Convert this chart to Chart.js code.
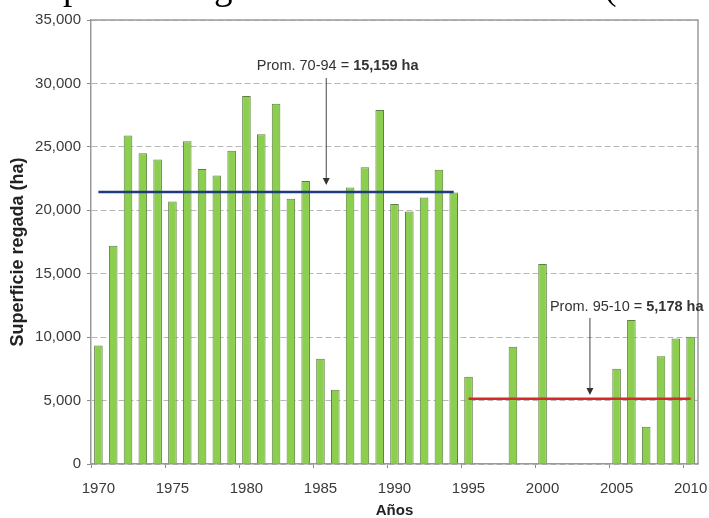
<!DOCTYPE html>
<html>
<head>
<meta charset="utf-8">
<script src="https://cdn.jsdelivr.net/npm/chart.js@4.4.1/dist/chart.umd.min.js"></script>
<style>
  html, body { margin: 0; padding: 0; background: #fff; }
</style>
</head>
<body>
<canvas id="riego" width="709" height="518"></canvas>
<script>
// years on the category axis
const years = ['1970','1971','1972','1973','1974','1975','1976','1977','1978','1979',
               '1980','1981','1982','1983','1984','1985','1986','1987','1988','1989',
               '1990','1991','1992','1993','1994','1995','1996','1997','1998','1999',
               '2000','2001','2002','2003','2004','2005','2006','2007','2008','2009','2010'];

// superficie regada (ha)
const surface = [9350, 17200, 25900, 24500, 24000, 20700, 25450, 23250, 22750, 24700,
                 29000, 26000, 28400, 20900, 22300, 8300, 5850, 21800, 23400, 27900,
                 20500, 19900, 21000, 23200, 21400, 6880, 0, 0, 9250, 0,
                 15770, 0, 0, 0, 80, 7500, 11350, 2940, 8490, 9900, 10030];

// the two average lines (as drawn in the picture)
const avgOldYears = ['1970', '1994'];
const avgOldLevel = [21450, 21450];
const avgNewYears = ['1995', '2010'];
const avgNewLevel = [5150, 5150];

const yTicks = [0, 5000, 10000, 15000, 20000, 25000, 30000, 35000];

const titleText = 'Superficie regada en el área de estudio (1970-2010)';
const yTitle = 'Superficie regada (ha)';
const noteOld = ['Prom. 70-94 = ', '15,159 ha'];
const noteNew = ['Prom. 95-10 = ', '5,178 ha'];

const sans = '"Liberation Sans", Arial, sans-serif';

function drawNote(ctx, parts, px, py, alignLeft) {
    ctx.font = '14.5px ' + sans;
    const w1 = ctx.measureText(parts[0]).width;
    ctx.font = 'bold 14.5px ' + sans;
    const w2 = ctx.measureText(parts[1]).width;
    let start = alignLeft ? px : px - (w1 + w2) / 2;
    ctx.fillStyle = '#333';
    ctx.textBaseline = 'middle';
    ctx.textAlign = 'left';
    ctx.font = '14.5px ' + sans;
    ctx.fillText(parts[0], start, py);
    ctx.font = 'bold 14.5px ' + sans;
    ctx.fillText(parts[1], start + w1, py);
}

function drawArrow(ctx, px, y1, y2) {
    ctx.strokeStyle = '#444';
    ctx.fillStyle = '#333';
    ctx.lineWidth = 1;
    ctx.beginPath();
    ctx.moveTo(px, y1);
    ctx.lineTo(px, y2 - 5);
    ctx.stroke();
    ctx.beginPath();
    ctx.moveTo(px - 3.5, y2 - 7);
    ctx.lineTo(px + 3.5, y2 - 7);
    ctx.lineTo(px, y2);
    ctx.closePath();
    ctx.fill();
}

const overlay = {
    id: 'overlay',
    afterDraw(chart) {
        const { ctx, chartArea: a, scales: { x, y } } = chart;
        ctx.save();

        // plot frame, top and right
        ctx.strokeStyle = '#9c9c9c';
        ctx.lineWidth = 1.5;
        ctx.beginPath();
        ctx.moveTo(a.left, a.top);
        ctx.lineTo(a.right, a.top);
        ctx.lineTo(a.right, a.bottom);
        ctx.stroke();

        // page title, cut off by the top edge
        ctx.font = '37px "Liberation Serif", "Times New Roman", serif';
        ctx.fillStyle = '#000';
        ctx.textBaseline = 'alphabetic';
        ctx.textAlign = 'left';
        const x0 = 63 - ctx.measureText('Su').width;
        ctx.fillText(titleText, x0, -1);

        // y axis title
        ctx.save();
        ctx.translate(18.5, 252);
        ctx.rotate(-Math.PI / 2);
        ctx.font = 'bold 18px ' + sans;
        ctx.fillStyle = '#222';
        ctx.textAlign = 'center';
        ctx.textBaseline = 'middle';
        ctx.fillText(yTitle, 0, 0);
        ctx.restore();

        // notes with arrows
        drawNote(ctx, noteOld, x.getPixelForValue(16.16), y.getPixelForValue(31370), false);
        drawArrow(ctx, x.getPixelForValue(15.39), y.getPixelForValue(30430), y.getPixelForValue(21990));
        drawNote(ctx, noteNew, x.getPixelForValue(30.5), y.getPixelForValue(12400), true);
        drawArrow(ctx, x.getPixelForValue(33.2), y.getPixelForValue(11510), y.getPixelForValue(5440));

        ctx.restore();
    }
};

const ctx = document.getElementById('riego').getContext('2d');
const riegoChart = new Chart(ctx, {
    type: 'bar',
    data: {
        labels: years,
        datasets: [
            {
                type: 'line',
                data: avgOldYears.map((yr, i) => ({ x: yr, y: avgOldLevel[i] })),
                borderColor: '#1f3c7a',
                borderWidth: 2.5,
                pointRadius: 0,
                order: 1
            },
            {
                type: 'line',
                data: avgNewYears.map((yr, i) => ({ x: yr, y: avgNewLevel[i] })),
                borderColor: '#d42a2a',
                borderWidth: 2.5,
                pointRadius: 0,
                order: 1
            },
            {
                label: 'Superficie regada',
                data: surface,
                backgroundColor: '#8ccf4f',
                borderColor: '#5f7f43',
                borderWidth: 1,
                barPercentage: 0.58,
                categoryPercentage: 1.0,
                order: 2
            }
        ]
    },
    options: {
        responsive: false,
        animation: false,
        devicePixelRatio: 1,
        layout: { padding: { left: 0, right: 11, top: 20, bottom: 0 } },
        plugins: {
            legend: { display: false },
            tooltip: { enabled: false }
        },
        scales: {
            x: {
                offset: true,
                afterFit: (scale) => {
                    scale.height = 54;
                    scale.paddingLeft = 0;
                    scale.paddingRight = 0;
                },
                grid: {
                    offset: true,
                    drawOnChartArea: false,
                    tickLength: 4,
                    tickColor: (c) => (c.index % 5 === 0 ? '#8a8a8a' : 'transparent')
                },
                border: { color: '#9a9a9a', width: 1.5 },
                ticks: {
                    autoSkip: false,
                    maxRotation: 0,
                    padding: 12,
                    color: '#3a3a3a',
                    font: { family: sans, size: 15 },
                    callback: function (v, i) {
                        const yr = years[i];
                        return Number(yr) % 5 === 0 ? yr : '';
                    }
                },
                title: {
                    display: true,
                    text: 'Años',
                    color: '#222',
                    font: { family: sans, size: 15, weight: 'bold', lineHeight: 1 },
                    padding: 0
                }
            },
            y: {
                min: 0,
                max: 35000,
                afterFit: (scale) => { scale.width = 91; },
                afterBuildTicks: (scale) => { scale.ticks = yTicks.map(v => ({ value: v })); },
                grid: {
                    color: '#b8b8b8',
                    lineWidth: 1,
                    tickLength: 4,
                    tickColor: '#8a8a8a',
                    tickBorderDash: []
                },
                border: { color: '#9a9a9a', width: 1.5, dash: [6, 3] },
                ticks: {
                    padding: 6,
                    color: '#3a3a3a',
                    font: { family: sans, size: 15 },
                    callback: (v) => v.toLocaleString('en-US')
                }
            }
        }
    },
    plugins: [overlay]
});
</script>
</body>
</html>
